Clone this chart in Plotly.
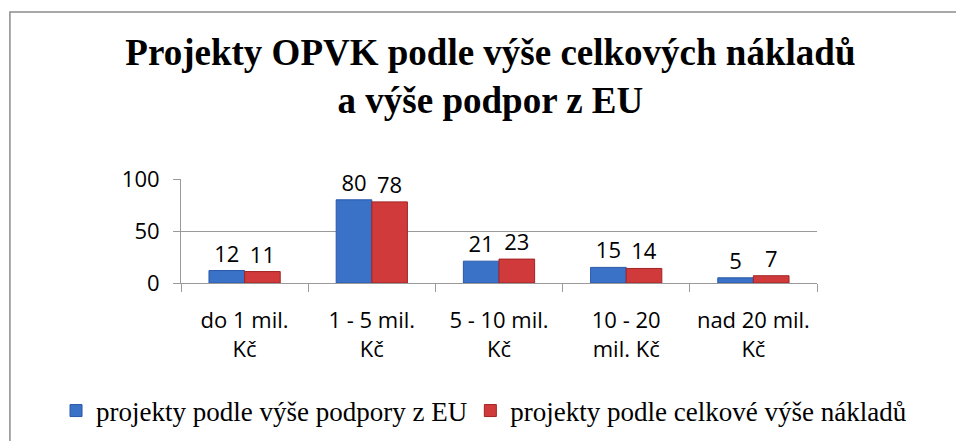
import plotly.graph_objects as go

categories = ["do 1 mil.<br>Kč", "1 - 5 mil.<br>Kč", "5 - 10 mil.<br>Kč", "10 - 20<br>mil. Kč", "nad 20 mil.<br>Kč"]
eu_support = [12, 80, 21, 15, 5]
total_costs = [11, 78, 23, 14, 7]
series_names = ["projekty podle výše podpory z EU", "projekty podle celkové výše nákladů"]
title_text = "<b>Projekty OPVK podle výše celkových nákladů<br>a výše podpor z EU</b>"

label_font = dict(family="Open Sans, Noto Sans, sans-serif", size=22, color="#000000")
legend_font = dict(family="Liberation Serif, Times New Roman, serif", size=27, color="#000000")

fig = go.Figure()
fig.add_trace(go.Bar(
    x=categories, y=eu_support, name=series_names[0], legend="legend",
    marker=dict(color="#3A72C8", line=dict(color="#2A58A8", width=1)),
    text=eu_support, textposition="outside", textfont=label_font, cliponaxis=False,
))
fig.add_trace(go.Bar(
    x=categories, y=total_costs, name=series_names[1], legend="legend2",
    marker=dict(color="#D03A3A", line=dict(color="#A02424", width=1)),
    text=total_costs, textposition="outside", textfont=label_font, cliponaxis=False,
))

fig.update_layout(
    width=956, height=441,
    paper_bgcolor="white", plot_bgcolor="white",
    margin=dict(l=181, r=139, t=179, b=158, autoexpand=False),
    barmode="group", bargap=0.44, bargroupgap=0.0,
    title=dict(
        text=title_text, x=0.513, xanchor="center", y=0.853, yanchor="middle",
        font=dict(family="Liberation Serif, Times New Roman, serif", size=37, color="#000000"),
    ),
    legend=dict(
        orientation="h", xref="container", yref="container",
        x=0.0586, xanchor="left", y=0.068, yanchor="middle",
        font=legend_font, itemwidth=30,
    ),
    legend2=dict(
        orientation="h", xref="container", yref="container",
        x=0.492, xanchor="left", y=0.068, yanchor="middle",
        font=legend_font, itemwidth=30,
    ),
    showlegend=True,
)
fig.update_xaxes(
    type="category", showline=True, linecolor="#9A9A9A", linewidth=1,
    ticks="outside", tickson="boundaries", ticklen=8, tickcolor="#9A9A9A",
    tickfont=label_font, showgrid=False, ticklabelstandoff=18,
)
fig.update_yaxes(
    range=[0, 100], tickvals=[0, 50, 100], showgrid=True, gridcolor="#9A9A9A", gridwidth=1,
    showline=True, linecolor="#9A9A9A", ticks="outside", ticklen=7, tickcolor="#9A9A9A",
    tickfont=label_font, zeroline=False, ticklabelstandoff=9,
)
fig.add_shape(
    type="rect", xref="paper", yref="paper",
    x0=-0.269, x1=1.25, y0=-1.6, y1=2.606,
    line=dict(color="#8C8C8C", width=1.5), fillcolor="rgba(0,0,0,0)", layer="below",
)
fig.write_html("out.html", config={"displayModeBar": False},
               post_script="document.body.style.margin='0';")
